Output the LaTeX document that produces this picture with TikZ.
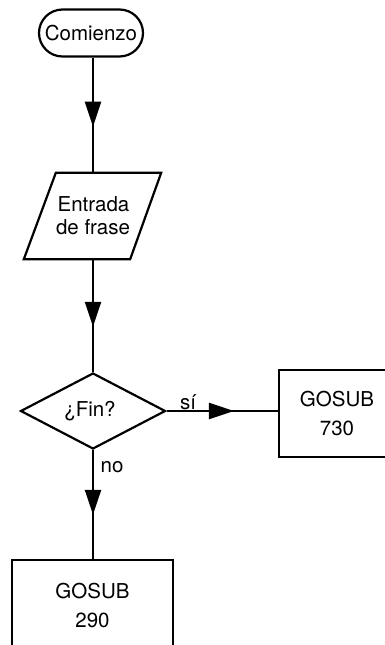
\documentclass[tikz,border=0pt]{standalone}
\usepackage{fontspec}
\setmainfont{TeX Gyre Heros}
\usetikzlibrary{shapes.geometric,shapes.misc,arrows.meta,decorations.markings,calc}
\begin{document}
\begin{tikzpicture}[x=1pt,y=-1pt,
  every node/.style={font=\fontsize{20.5}{23}\selectfont},
  ln/.style={line width=2.2pt},
  midarrow/.style={ln,decoration={markings,mark=at position #1 with {\arrow{Triangle[length=25pt,width=16pt]}}},postaction={decorate}},
  term/.style={rounded rectangle,draw,ln,minimum width=104pt,minimum height=47pt,inner sep=0pt},
  dec/.style={diamond,draw,ln,aspect=1.9,minimum width=145pt,minimum height=76pt,inner sep=0pt},
  blank/.style={inner sep=0pt,align=center},
  lbl/.style={inner sep=0pt}
]
\useasboundingbox (0,0) rectangle (385,645);
\node[term] (com) at (91,33) {Comienzo};
\node[blank,minimum width=67pt,minimum height=86pt,font=\fontsize{20.5}{23}\selectfont] (par) at (93,216) {\hspace*{1pt}Entrada\\de frase};
\draw[ln,line join=miter] ([xshift=-32pt]par.south west) -- (par.south east) -- ([xshift=31pt]par.north east) -- (par.north west) -- cycle;
\node[dec] (fin) at (93,411) {\hspace*{-6pt}¿Fin?};
\node[blank,minimum width=116pt,minimum height=87pt,font=\fontsize{20.5}{29}\selectfont] (g730) at (337,413.5) {GOSUB\\730};
\node[blank,minimum width=161pt,minimum height=90pt,font=\fontsize{20.5}{29}\selectfont] (g290) at (92.5,605) {GOSUB\\290};
\coordinate (R) at (385,0);
\coordinate (B) at (0,645);
\draw[ln] (R |- g730.north) -- (g730.north west) -- (g730.south west) -- (R |- g730.south);
\draw[ln] (g290.west |- B) -- (g290.north west) -- (g290.north east) -- (g290.east |- B);
\draw[midarrow=0.6] (com.south -| par.north) -- (par.north);
\draw[midarrow=0.6] (par.south) -- (fin.north -| par.south);
\draw[midarrow=0.6] (fin.east) -- (g730.west |- fin.east);
\draw[midarrow=0.59] (fin.south) -- (g290.north -| fin.south);
\node[lbl] (si) at (188,402) {sí};
\node[lbl] (no) at (112,467) {no};
\end{tikzpicture}
\end{document}
